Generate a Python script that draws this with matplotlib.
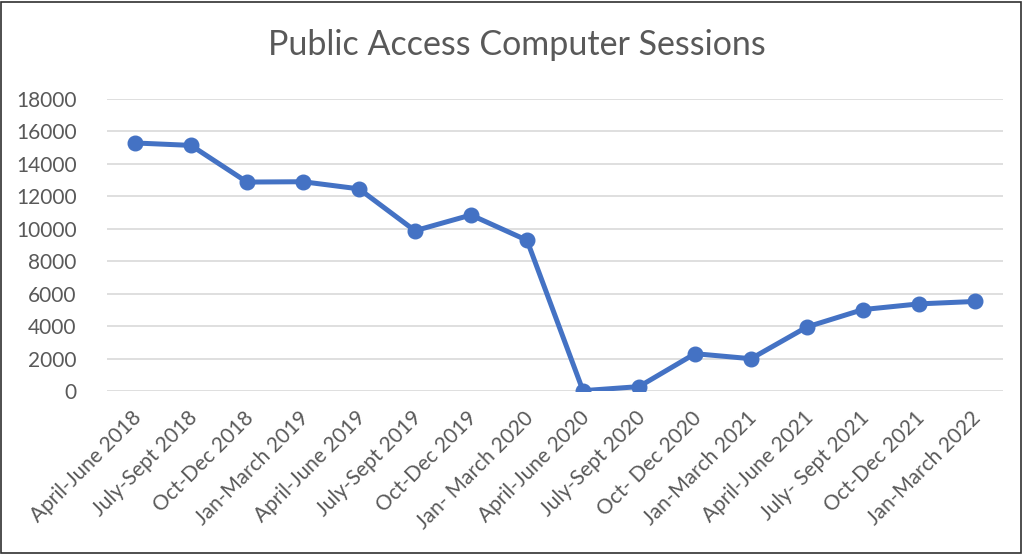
import matplotlib
matplotlib.use("Agg")
import matplotlib.pyplot as plt
from matplotlib.patches import Rectangle
from matplotlib.transforms import ScaledTranslation

categories = ["April-June 2018", "July-Sept 2018", "Oct-Dec 2018", "Jan-March 2019",
              "April-June 2019", "July-Sept 2019", "Oct-Dec 2019", "Jan- March 2020",
              "April-June 2020", "July-Sept 2020", "Oct- Dec 2020", "Jan-March 2021",
              "April-June 2021", "July- Sept 2021", "Oct-Dec 2021", "Jan-March 2022"]
sessions = [15290, 15140, 12880, 12900, 12460, 9880, 10850, 9290,
            20, 270, 2300, 1990, 3950, 5020, 5370, 5520]
yticks = [0, 2000, 4000, 6000, 8000, 10000, 12000, 14000, 16000, 18000]

plt.rcParams['font.family'] = ['Lato', 'DejaVu Sans']
gray = '#595959'

fig = plt.figure(figsize=(10.23, 5.54), dpi=100)
ax = fig.add_axes([107/1023, 1-391/554, (1003-107)/1023, (391-99)/554])

x = list(range(len(categories)))
ax.plot(x, sessions, color='#4472C4', linewidth=3.6, marker='o', markersize=10.5,
        solid_capstyle='round', zorder=3)

ax.set_xlim(-0.5, len(categories) - 0.5)
ax.set_ylim(0, 18000)
ax.set_yticks(yticks)
ax.set_yticklabels([str(v) for v in yticks])
ax.set_xticks(x)
ax.set_xticklabels(categories, rotation=45, ha='right', va='top', rotation_mode='anchor')

ax.grid(axis='y', color='#D9D9D9', linewidth=1.2)
ax.set_axisbelow(True)
for s in ax.spines.values():
    s.set_visible(False)
ax.tick_params(axis='both', length=0, colors=gray)
ax.tick_params(axis='y', pad=22, labelsize=15)
ax.tick_params(axis='x', pad=12, labelsize=15)
offset = ScaledTranslation(-4/100, 0, fig.dpi_scale_trans)
for lab in ax.get_xticklabels():
    lab.set_transform(lab.get_transform() + offset)

fig.text(517/1023, 1-45/554, "Public Access Computer Sessions", ha='center', va='center',
         fontsize=24.5, color=gray)

fig.patches.append(Rectangle((0.001, 0.002), 0.997, 0.995, transform=fig.transFigure,
                             fill=False, edgecolor='#303030', linewidth=1.2))

fig.savefig("out.png", dpi=100)
